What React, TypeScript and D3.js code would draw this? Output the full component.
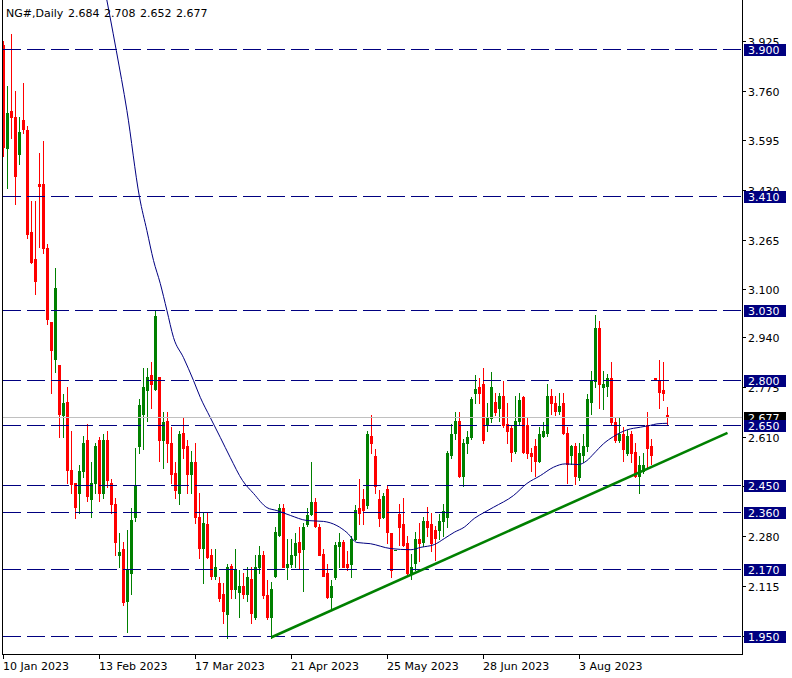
import React from 'react';
import * as d3 from 'd3';

const W = 792;
const H = 678;

const titleSymbol = 'NG#,Daily';
const titleValues = ['2.684', '2.708', '2.652', '2.677'];

const dateLabels = ['10 Jan 2023', '13 Feb 2023', '17 Mar 2023', '21 Apr 2023', '25 May 2023', '28 Jun 2023', '3 Aug 2023'];
const dateLabelBars = [0, 24, 48, 72, 96, 120, 144];

const openP = [
  3.910, 3.571, 3.691, 3.674, 3.551, 3.661, 3.628, 3.292, 3.202, 3.451,
  3.451, 3.236, 2.990, 2.870, 2.850, 2.681, 2.727, 2.501, 2.455, 2.422,
  2.495, 2.598, 2.405, 2.458, 2.598, 2.422, 2.601, 2.458, 2.388, 2.219,
  2.236, 2.063, 2.156, 2.342, 2.581, 2.687, 2.764, 2.814, 2.770, 2.810,
  2.598, 2.661, 2.588, 2.491, 2.425, 2.624, 2.578, 2.485, 2.528, 2.345,
  2.242, 2.322, 2.219, 2.149, 2.126, 2.089, 2.020, 2.182, 2.106, 2.093,
  2.113, 2.089, 2.139, 2.010, 2.176, 2.219, 2.083, 2.010, 2.146, 2.285,
  2.375, 2.176, 2.189, 2.219, 2.259, 2.239, 2.322, 2.355, 2.392, 2.312,
  2.222, 2.156, 2.079, 2.143, 2.246, 2.262, 2.186, 2.186, 2.272, 2.372,
  2.405, 2.382, 2.614, 2.545, 2.402, 2.342, 2.438, 2.289, 2.235, 2.355,
  2.319, 2.256, 2.159, 2.192, 2.269, 2.259, 2.332, 2.319, 2.302, 2.302,
  2.332, 2.342, 2.548, 2.624, 2.661, 2.481, 2.588, 2.608, 2.754, 2.774,
  2.787, 2.648, 2.674, 2.727, 2.707, 2.744, 2.654, 2.638, 2.564, 2.664,
  2.741, 2.648, 2.555, 2.578, 2.531, 2.614, 2.624, 2.744, 2.724, 2.697,
  2.721, 2.624, 2.551, 2.578, 2.478, 2.551, 2.578, 2.727, 2.794, 2.970,
  2.774, 2.780, 2.807, 2.658, 2.598, 2.621, 2.555, 2.618, 2.561, 2.481,
  2.495, 2.648, 2.578, 2.807, 2.800, 2.764, 2.684,
];
const highP = [
  3.925, 3.774, 3.947, 3.760, 3.674, 3.787, 3.641, 3.395, 3.395, 3.554,
  3.594, 3.249, 2.990, 3.172, 2.850, 2.751, 2.777, 2.631, 2.458, 2.515,
  2.614, 2.654, 2.525, 2.588, 2.611, 2.621, 2.631, 2.471, 2.408, 2.292,
  2.262, 2.299, 2.375, 2.574, 2.737, 2.837, 2.840, 2.860, 3.030, 2.810,
  2.694, 2.691, 2.641, 2.525, 2.631, 2.671, 2.598, 2.564, 2.591, 2.425,
  2.358, 2.358, 2.236, 2.236, 2.143, 2.123, 2.189, 2.189, 2.236, 2.166,
  2.159, 2.176, 2.176, 2.219, 2.246, 2.232, 2.133, 2.129, 2.312, 2.388,
  2.388, 2.272, 2.269, 2.289, 2.309, 2.325, 2.375, 2.525, 2.408, 2.322,
  2.239, 2.189, 2.133, 2.259, 2.292, 2.266, 2.232, 2.282, 2.382, 2.471,
  2.438, 2.631, 2.684, 2.568, 2.432, 2.425, 2.448, 2.292, 2.235, 2.388,
  2.408, 2.282, 2.222, 2.295, 2.325, 2.345, 2.378, 2.358, 2.315, 2.355,
  2.388, 2.564, 2.651, 2.691, 2.691, 2.604, 2.631, 2.741, 2.814, 2.804,
  2.837, 2.721, 2.824, 2.754, 2.754, 2.797, 2.721, 2.648, 2.747, 2.754,
  2.747, 2.671, 2.574, 2.604, 2.641, 2.658, 2.787, 2.770, 2.747, 2.754,
  2.754, 2.641, 2.584, 2.588, 2.588, 2.618, 2.751, 2.830, 3.016, 2.996,
  2.830, 2.820, 2.860, 2.671, 2.671, 2.641, 2.634, 2.628, 2.588, 2.545,
  2.555, 2.694, 2.604, 2.807, 2.864, 2.860, 2.708,
];
const lowP = [
  3.544, 3.435, 3.604, 3.385, 3.515, 3.618, 3.269, 3.186, 3.086, 3.239,
  3.222, 2.986, 2.757, 2.827, 2.608, 2.608, 2.458, 2.425, 2.339, 2.358,
  2.478, 2.398, 2.345, 2.425, 2.398, 2.408, 2.442, 2.358, 2.216, 2.179,
  2.050, 1.963, 2.089, 2.332, 2.555, 2.568, 2.664, 2.707, 2.764, 2.531,
  2.508, 2.525, 2.458, 2.408, 2.388, 2.538, 2.425, 2.425, 2.325, 2.209,
  2.123, 2.206, 2.139, 2.139, 2.066, 1.993, 1.943, 2.076, 2.076, 2.010,
  2.073, 2.066, 1.990, 2.006, 2.159, 2.076, 2.006, 1.943, 2.143, 2.282,
  2.176, 2.139, 2.176, 2.176, 2.172, 2.099, 2.315, 2.349, 2.309, 2.216,
  2.146, 2.076, 2.036, 2.139, 2.176, 2.176, 2.166, 2.143, 2.266, 2.322,
  2.322, 2.375, 2.555, 2.422, 2.315, 2.339, 2.256, 2.143, 2.235, 2.252,
  2.246, 2.149, 2.139, 2.166, 2.199, 2.246, 2.282, 2.232, 2.202, 2.272,
  2.282, 2.309, 2.541, 2.604, 2.478, 2.448, 2.555, 2.604, 2.721, 2.721,
  2.588, 2.631, 2.658, 2.681, 2.664, 2.641, 2.588, 2.531, 2.555, 2.654,
  2.555, 2.538, 2.495, 2.481, 2.525, 2.608, 2.614, 2.687, 2.681, 2.687,
  2.621, 2.455, 2.521, 2.452, 2.468, 2.525, 2.564, 2.687, 2.774, 2.707,
  2.701, 2.744, 2.648, 2.594, 2.594, 2.531, 2.551, 2.525, 2.478, 2.422,
  2.491, 2.511, 2.521, 2.800, 2.707, 2.731, 2.652,
];
const closeP = [
  3.574, 3.687, 3.674, 3.475, 3.624, 3.634, 3.285, 3.192, 3.129, 3.442,
  3.236, 3.000, 2.900, 3.106, 2.687, 2.721, 2.501, 2.452, 2.378, 2.495,
  2.591, 2.415, 2.458, 2.581, 2.422, 2.598, 2.465, 2.388, 2.259, 2.226,
  2.060, 2.169, 2.335, 2.448, 2.717, 2.774, 2.810, 2.787, 3.013, 2.601,
  2.658, 2.588, 2.488, 2.435, 2.621, 2.574, 2.485, 2.528, 2.345, 2.242,
  2.325, 2.212, 2.149, 2.179, 2.073, 2.030, 2.176, 2.103, 2.166, 2.116,
  2.089, 2.143, 2.026, 2.176, 2.219, 2.083, 2.010, 2.106, 2.295, 2.375,
  2.176, 2.186, 2.219, 2.256, 2.229, 2.312, 2.349, 2.395, 2.315, 2.219,
  2.149, 2.079, 2.113, 2.249, 2.259, 2.179, 2.176, 2.272, 2.368, 2.358,
  2.368, 2.618, 2.588, 2.448, 2.339, 2.412, 2.295, 2.166, 2.235, 2.309,
  2.249, 2.156, 2.176, 2.269, 2.256, 2.329, 2.312, 2.256, 2.275, 2.329,
  2.362, 2.555, 2.618, 2.661, 2.481, 2.588, 2.611, 2.734, 2.770, 2.754,
  2.598, 2.674, 2.774, 2.694, 2.744, 2.648, 2.631, 2.558, 2.664, 2.731,
  2.558, 2.555, 2.545, 2.531, 2.618, 2.628, 2.744, 2.721, 2.697, 2.711,
  2.624, 2.521, 2.578, 2.481, 2.555, 2.578, 2.734, 2.800, 2.970, 2.784,
  2.784, 2.807, 2.658, 2.598, 2.621, 2.571, 2.614, 2.555, 2.481, 2.515,
  2.518, 2.574, 2.551, 2.800, 2.760, 2.757, 2.677,
];

const maBars = [
  25, 28.2, 30.85, 34, 35.85, 37.5, 39.2, 40.85, 42.5, 45, 47.5, 49.2, 51.7, 54.2, 56.7,
  59.75, 62.5, 65.85, 68.35, 71.7, 75.85, 80, 83.35, 85.85, 88.35, 91.7, 96.7, 101.85,
  104.35, 107.7, 110.2, 112.7, 115.2, 117.7, 120.2, 122.5, 127.5, 130.85, 134.2, 137.5,
  140.4, 143.75, 145.85, 147.5, 150, 152.5, 155.85, 159.2, 161.7, 163.35, 166,
];
const maValues = [
  4.119, 3.893, 3.694, 3.406, 3.295, 3.196, 3.119, 3.030, 2.940, 2.873, 2.797, 2.741, 2.674, 2.608, 2.541,
  2.465, 2.422, 2.375, 2.365, 2.349, 2.332, 2.329, 2.315, 2.292, 2.259, 2.255, 2.239, 2.235,
  2.243, 2.252, 2.272, 2.293, 2.310, 2.339, 2.359, 2.376, 2.415, 2.455, 2.481, 2.509,
  2.520, 2.518, 2.531, 2.553, 2.587, 2.611, 2.633, 2.642, 2.648, 2.653, 2.655,
];

const trendBars = [67, 181];
const trendValues = [1.944, 2.623];

const levelValues = [3.9, 3.41, 3.03, 2.8, 2.65, 2.45, 2.36, 2.17, 1.95];
const levelLabels = ['3.900', '3.410', '3.030', '2.800', '2.650', '2.450', '2.360', '2.170', '1.950'];
const tickValues = [3.925, 3.76, 3.595, 3.43, 3.265, 3.1, 2.94, 2.775, 2.61, 2.445, 2.28, 2.115, 1.95];
const tickLabels = ['3.925', '3.760', '3.595', '3.430', '3.265', '3.100', '2.940', '2.775', '2.610', '2.445', '2.280', '2.115', '1.950'];
const bidValue = 2.677;
const bidLabel = '2.677';

const FONT = "'DejaVu Sans', Verdana, sans-serif";
const NAVY = '#000080';
const UP = '#008000';
const DOWN = '#FF0000';

export default function App() {
  const left = 2;
  const right = 742;
  const bottom = 654;
  const x = d3.scaleLinear().domain([0, 1]).range([3, 7]);
  const y = d3.scaleLinear().domain([3.9, 1.95]).range([48.5, 635.5]);
  const ry = (v: number) => Math.round(y(v));

  const maPts = maBars.map((b, i) => [b, maValues[i]] as [number, number]);
  const maPath = d3
    .line<[number, number]>()
    .x((d) => x(d[0]) + 0.5)
    .y((d) => y(d[1]))
    .curve(d3.curveMonotoneX)(maPts) as string;

  return (
    <svg
      width={W}
      height={H}
      style={{ position: 'absolute', left: 0, top: 0, background: '#fff', display: 'block' }}
      fontFamily={FONT}
      fontSize={11}
    >
      <rect x={0} y={0} width={W} height={H} fill="#fff" />
      <defs>
        <clipPath id="plot">
          <rect x={left + 1} y={0} width={right - left - 1} height={bottom} />
        </clipPath>
      </defs>

      <g clipPath="url(#plot)">
        {openP.map((o, i) => {
          const c = closeP[i];
          const col = c >= o ? UP : DOWN;
          const px = Math.round(x(i));
          const yh = ry(highP[i]);
          const yl = ry(lowP[i]);
          const yt = Math.min(ry(o), ry(c));
          const yb = Math.max(ry(o), ry(c));
          return (
            <g key={i} fill={col}>
              <rect x={px} y={yh} width={1} height={Math.max(1, yl - yh + 1)} />
              <rect x={px - 1} y={yt} width={3} height={Math.max(1, yb - yt + 1)} />
            </g>
          );
        })}
        <path d={maPath} fill="none" stroke={NAVY} strokeWidth={1} />
        {levelValues.map((v, i) => (
          <line
            key={i}
            x1={left + 1}
            x2={right}
            y1={ry(v) + 0.5}
            y2={ry(v) + 0.5}
            stroke={NAVY}
            strokeWidth={1}
            strokeDasharray="18 6"
          />
        ))}
        <line x1={left + 1} x2={right} y1={ry(bidValue) + 0.5} y2={ry(bidValue) + 0.5} stroke="#C0C0C0" strokeWidth={1} />
        <line
          x1={x(trendBars[0]) + 0.5}
          y1={y(trendValues[0])}
          x2={x(trendBars[1]) + 0.5}
          y2={y(trendValues[1])}
          stroke={UP}
          strokeWidth={2.6}
        />
      </g>

      {/* title */}
      <text x={6} y={17} fill="#000">{titleSymbol}</text>
      {titleValues.map((t, i) => (
        <text key={i} x={68 + i * 36} y={17} fill="#000">{t}</text>
      ))}

      {/* frame */}
      <line x1={left + 0.5} x2={left + 0.5} y1={0} y2={bottom + 0.5} stroke="#000" />
      <line x1={right + 0.5} x2={right + 0.5} y1={0} y2={bottom + 0.5} stroke="#000" />
      <line x1={left} x2={right + 1} y1={bottom + 0.5} y2={bottom + 0.5} stroke="#000" />

      {/* right axis */}
      {tickValues.map((v, i) => (
        <g key={i}>
          <line x1={right} x2={right + 4} y1={ry(v) + 0.5} y2={ry(v) + 0.5} stroke="#000" />
          <text x={748} y={ry(v) + 5} fill="#000">{tickLabels[i]}</text>
        </g>
      ))}
      <rect x={744} y={ry(bidValue) - 5} width={42} height={12} fill="#000" />
      <text x={748} y={ry(bidValue) + 5} fill="#fff">{bidLabel}</text>
      {levelValues.map((v, i) => (
        <g key={i}>
          <rect x={744} y={ry(v) - 5} width={42} height={12} fill={NAVY} />
          <text x={748} y={ry(v) + 5} fill="#fff">{levelLabels[i]}</text>
        </g>
      ))}

      {/* bottom axis */}
      {dateLabelBars.map((b, i) => (
        <g key={i}>
          <line x1={Math.round(x(b)) + 0.5} x2={Math.round(x(b)) + 0.5} y1={bottom} y2={bottom + 5} stroke="#000" />
          <text x={Math.round(x(b))} y={670} fill="#000">{dateLabels[i]}</text>
        </g>
      ))}
    </svg>
  );
}
